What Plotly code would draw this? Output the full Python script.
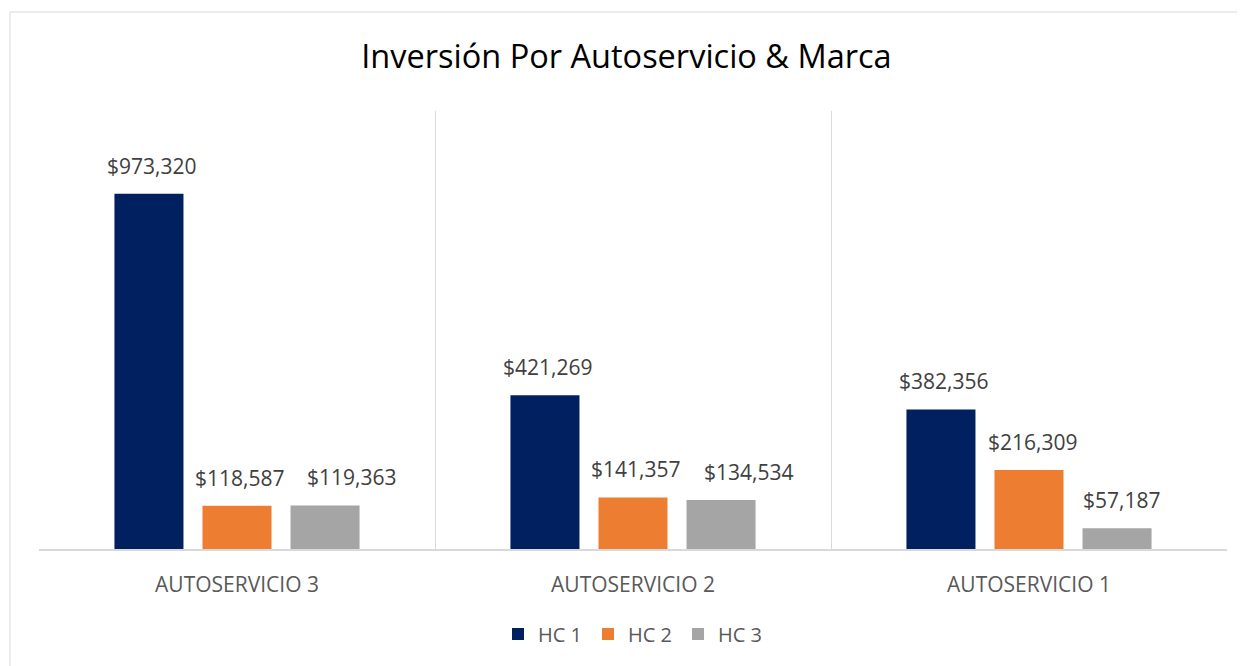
import plotly.graph_objects as go

categories = ["AUTOSERVICIO 3", "AUTOSERVICIO 2", "AUTOSERVICIO 1"]
series_names = ["HC 1", "HC 2", "HC 3"]
hc1 = [973320, 421269, 382356]
hc2 = [118587, 141357, 216309]
hc3 = [119363, 134534, 57187]
colors = ["#002060", "#ED7D31", "#A5A5A5"]

# manual horizontal nudges of data labels (px), per series, per category (as in the original)
label_nudge = [[3, 3, 3], [3, 3, 4], [27, 28, 4]]

FONT = "Open Sans"
OFF = 8  # page body margin
W, H = 1245 - OFF, 666 - OFF
ML, MR, MT, MB = 39 - OFF, 18, 111 - OFF, 117
PW, PH = W - ML - MR, H - MT - MB

fig = go.Figure()
all_series = [hc1, hc2, hc3]
for name, vals, col in zip(series_names, all_series, colors):
    fig.add_trace(go.Bar(x=categories, y=vals, name=name, marker=dict(color=col, line=dict(width=0))))

# data labels above bars
slot = PW / 3 * (1 - 0.333) / 3
for si, vals in enumerate(all_series):
    for ci, v in enumerate(vals):
        fig.add_annotation(x=categories[ci], y=v, text=f"${v:,}", showarrow=False,
                           xshift=(si - 1) * slot + label_nudge[si][ci], yanchor="bottom", yshift=12,
                           font=dict(family=FONT, size=21, color="#404040"))

# outer chart border
fig.add_shape(type="rect", xref="paper", yref="paper",
              x0=(10 - OFF - ML) / PW, x1=(W + 20 - ML) / PW,
              y0=-(H + 20 - MT - PH) / PH, y1=(H - MB - (12 - OFF)) / PH,
              line=dict(color="#D9D9D9", width=1), fillcolor="rgba(0,0,0,0)", layer="below")

fig.update_layout(
    width=W, height=H,
    margin=dict(l=ML, r=MR, t=MT, b=MB),
    paper_bgcolor="white", plot_bgcolor="white",
    barmode="group", bargap=0.333, bargroupgap=0.216,
    title=dict(text="Inversión Por Autoservicio & Marca", x=0.5, xanchor="center",
               y=1 - (57 - OFF) / H, yanchor="middle",
               font=dict(family=FONT, size=32.5, color="#000000")),
    showlegend=True,
    legend=dict(orientation="h", x=0.5, xanchor="center", y=-(634 - 549) / PH, yanchor="middle",
                font=dict(family=FONT, size=20, color="#595959"), traceorder="normal",
                itemwidth=30, entrywidth=45, entrywidthmode="pixels"),
    xaxis=dict(type="category", tickson="boundaries", showgrid=True, gridcolor="#D9D9D9", gridwidth=1,
               showline=True, linecolor="#D9D9D9", linewidth=2, ticks="",
               tickfont=dict(family=FONT, size=21, color="#595959"), ticklabelstandoff=16,
               mirror=False),
    yaxis=dict(range=[0, 1200000], showgrid=False, showticklabels=False, zeroline=False,
               showline=False, ticks=""),
)

fig.write_html("out.html")
